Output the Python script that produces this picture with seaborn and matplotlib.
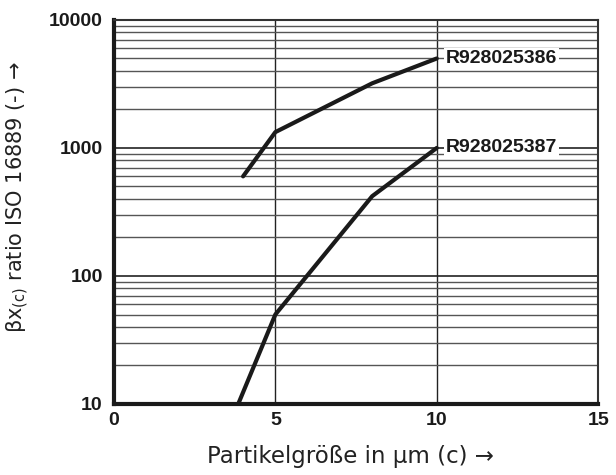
import numpy as np
import pandas as pd
import matplotlib
matplotlib.use("Agg")
import matplotlib.pyplot as plt
import seaborn as sns
from matplotlib.ticker import FixedLocator, NullFormatter, LogLocator

# values
size_386 = [4.0, 5.0, 8.0, 10.0]
beta_386 = [600, 1330, 3200, 5000]
size_387 = [3.85, 5.0, 8.0, 10.0]
beta_387 = [10, 50, 420, 1000]
names = ["R928025386", "R928025387"]
x_ticks = [0, 5, 10, 15]
y_ticks = [10, 100, 1000, 10000]

df = pd.concat([
    pd.DataFrame({"size": size_386, "beta": beta_386, "filter": names[0]}),
    pd.DataFrame({"size": size_387, "beta": beta_387, "filter": names[1]}),
])

sns.set_style("white")
plt.rcParams["font.family"] = ["DejaVu Sans"]
narrow = ["Liberation Sans Narrow", "Liberation Sans", "DejaVu Sans"]

fig = plt.figure(figsize=(6.16, 4.75), dpi=100)
ax = fig.add_axes([0.185, 0.1495, 0.786, 0.8085])

ax.set_yscale("log")
ax.set_xlim(0, 15)
ax.set_ylim(10, 10000)

# grid first so the curves sit on top
ax.yaxis.set_minor_locator(LogLocator(base=10, subs=np.arange(2, 10)))
ax.yaxis.set_minor_formatter(NullFormatter())
ax.grid(which="minor", axis="y", color="#555555", linewidth=1.0)
ax.grid(which="major", axis="y", color="#222222", linewidth=1.2)
ax.grid(which="major", axis="x", color="#222222", linewidth=1.0)
ax.set_axisbelow(True)

sns.lineplot(data=df, x="size", y="beta", units="filter", estimator=None,
             color="#1a1a1a", linewidth=3, ax=ax, legend=False)

for name, xs, ys in [(names[0], size_386, beta_386), (names[1], size_387, beta_387)]:
    ax.text(xs[-1] + 0.28, ys[-1], name, ha="left", va="center",
            fontsize=14, fontweight="bold", family=narrow, color="#1a1a1a",
            bbox=dict(facecolor="white", edgecolor="none", pad=1.5))

ax.xaxis.set_major_locator(FixedLocator(x_ticks))
ax.yaxis.set_major_locator(FixedLocator(y_ticks))
ax.set_xticklabels([str(v) for v in x_ticks])
ax.set_yticklabels([str(v) for v in y_ticks])
for lab in ax.get_xticklabels() + ax.get_yticklabels():
    lab.set_family(narrow)
    lab.set_fontweight("bold")
    lab.set_fontsize(14)
    lab.set_color("#1a1a1a")
ax.tick_params(axis="both", which="both", length=0)
ax.tick_params(axis="x", pad=6)
ax.tick_params(axis="y", pad=8)

for side in ["left", "bottom"]:
    ax.spines[side].set_linewidth(3)
    ax.spines[side].set_color("#1a1a1a")
for side in ["top", "right"]:
    ax.spines[side].set_linewidth(1.5)
    ax.spines[side].set_color("#333333")

ax.set_xlabel("Partikelgröße in µm (c) →", fontsize=16.5, color="#222222")
ax.set_ylabel("βx$_{(\\mathregular{c})}$ ratio ISO 16889 (-) →", fontsize=15,
              color="#222222")
ax.xaxis.set_label_coords(0.488, -0.106)
ax.yaxis.set_label_coords(-0.171, 0.539)

fig.savefig("out.png", dpi=100)
